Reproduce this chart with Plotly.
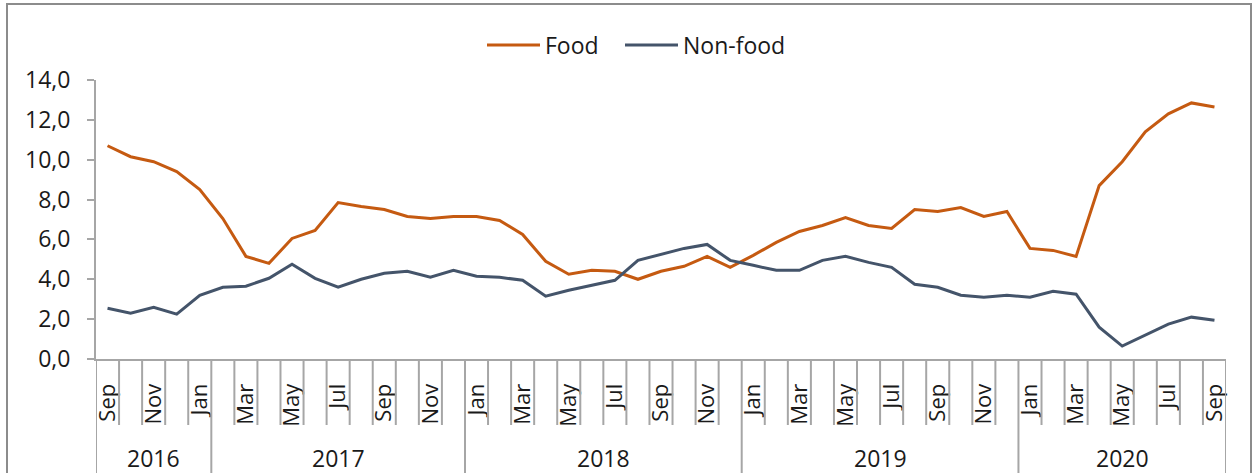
import plotly.graph_objects as go

# Monthly series, Sep 2016 .. Sep 2020
months = ["Sep", "Oct", "Nov", "Dec",
          "Jan", "Feb", "Mar", "Apr", "May", "Jun", "Jul", "Aug", "Sep", "Oct", "Nov", "Dec",
          "Jan", "Feb", "Mar", "Apr", "May", "Jun", "Jul", "Aug", "Sep", "Oct", "Nov", "Dec",
          "Jan", "Feb", "Mar", "Apr", "May", "Jun", "Jul", "Aug", "Sep", "Oct", "Nov", "Dec",
          "Jan", "Feb", "Mar", "Apr", "May", "Jun", "Jul", "Aug", "Sep"]
# year group label for each month (group spans as in the source table)
year_groups = (["2016"] * 5 + ["2017"] * 11 + ["2018"] * 12 + ["2019"] * 12 + ["2020"] * 9)

food = [10.7, 10.15, 9.9, 9.4, 8.5, 7.05, 5.15, 4.8, 6.05, 6.45, 7.85, 7.65, 7.5, 7.15, 7.05, 7.15,
        7.15, 6.95, 6.25, 4.9, 4.25, 4.45, 4.4, 4.0, 4.4, 4.65, 5.15, 4.6,
        5.2, 5.85, 6.4, 6.7, 7.1, 6.7, 6.55, 7.5, 7.4, 7.6, 7.15, 7.4,
        5.55, 5.45, 5.15, 8.7, 9.9, 11.4, 12.3, 12.85, 12.65]
non_food = [2.55, 2.3, 2.6, 2.25, 3.2, 3.6, 3.65, 4.05, 4.75, 4.05, 3.6, 4.0, 4.3, 4.4, 4.1, 4.45,
            4.15, 4.1, 3.95, 3.15, 3.45, 3.7, 3.95, 4.95, 5.25, 5.55, 5.75, 4.95,
            4.7, 4.45, 4.45, 4.95, 5.15, 4.85, 4.6, 3.75, 3.6, 3.2, 3.1, 3.2,
            3.1, 3.4, 3.25, 1.6, 0.65, 1.2, 1.75, 2.1, 1.95]

series = [("Food", food, "#C55A11"), ("Non-food", non_food, "#44546A")]

FONT = "Open Sans"
TXT = "#1a1a1a"
AXIS = "#a6a6a6"

W, H = 1253, 473
L, R, T, B = 96, 1226, 80, 359          # plot area in pixels
PH = B - T


def py(pix):
    """page pixel row -> paper y"""
    return (B - pix) / PH


def px(pix):
    """page pixel column -> paper x"""
    return (pix - L) / (R - L)


idx = list(range(len(months)))

fig = go.Figure()
for name, vals, col in series:
    fig.add_trace(go.Scatter(x=idx, y=vals, name=name, mode="lines",
                             line=dict(color=col, width=3), showlegend=False))

# group boundaries
bounds = [0]
for i in range(1, len(year_groups)):
    if year_groups[i] != year_groups[i - 1]:
        bounds.append(i)
bounds.append(len(year_groups))

shapes = []
for k in range(len(months) + 1):
    y_end = py(H + 5) if k in bounds else py(425)
    shapes.append(dict(type="line", xref="x", yref="paper", x0=k - 0.5, x1=k - 0.5,
                       y0=0, y1=y_end, line=dict(color=AXIS, width=2)))
# chart frame
shapes.append(dict(type="rect", xref="paper", yref="paper",
                   x0=px(7), x1=px(1251), y0=py(H + 10), y1=py(4),
                   line=dict(color="#8c8c8c", width=2), layer="below"))

annotations = []
for a, b in zip(bounds[:-1], bounds[1:]):
    annotations.append(dict(x=(a + b - 1) / 2, y=py(458), xref="x", yref="paper",
                            text=year_groups[a], showarrow=False,
                            font=dict(family=FONT, size=23, color=TXT),
                            xanchor="center", yanchor="middle"))

# legend: line key followed by series name
legend_x = [487, 625]
for (name, _, col), x0 in zip(series, legend_x):
    shapes.append(dict(type="line", xref="paper", yref="paper",
                       x0=px(x0), x1=px(x0 + 53), y0=py(45), y1=py(45),
                       line=dict(color=col, width=3)))
    annotations.append(dict(x=px(x0 + 56), y=py(45), xref="paper", yref="paper",
                            text=name, showarrow=False, xanchor="left", yanchor="middle",
                            font=dict(family=FONT, size=23, color=TXT)))

tick_idx = idx[::2]
fig.update_layout(
    width=W, height=H,
    margin=dict(l=L, r=W - R, t=T, b=H - B, pad=0),
    plot_bgcolor="white", paper_bgcolor="white",
    separators=", ",
    font=dict(family=FONT, size=22, color=TXT),
    showlegend=False,
    shapes=shapes,
    annotations=annotations,
    xaxis=dict(range=[-0.5, len(months) - 0.5], showgrid=False, zeroline=False,
               showline=True, linecolor=AXIS, linewidth=2,
               tickmode="array", tickvals=tick_idx, ticktext=[months[i] for i in tick_idx],
               tickangle=-90, ticks="", ticklabelstandoff=14,
               tickfont=dict(family=FONT, size=22, color=TXT)),
    yaxis=dict(range=[0, 14], dtick=2, tickformat=".1f", showgrid=False, zeroline=False,
               showline=True, linecolor=AXIS, linewidth=2,
               ticks="outside", ticklen=7, tickcolor=AXIS, tickwidth=2,
               ticklabelstandoff=12,
               tickfont=dict(family=FONT, size=23, color=TXT)),
)

fig.write_html("out.html")
